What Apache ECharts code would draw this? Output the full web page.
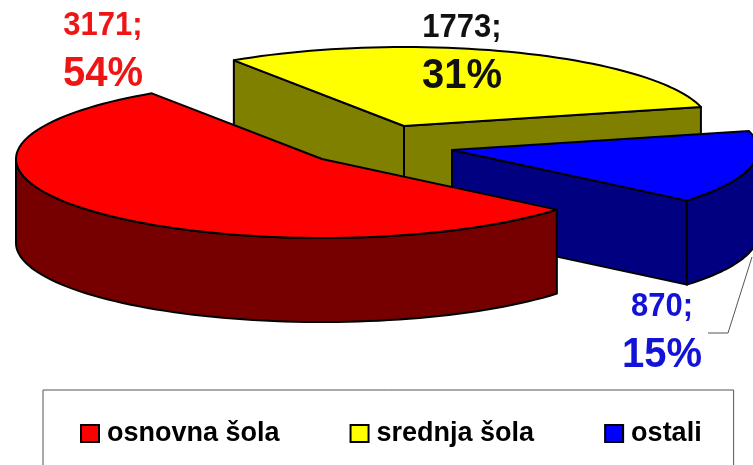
<!DOCTYPE html>
<html>
<head>
<meta charset="utf-8">
<script src="https://cdn.jsdelivr.net/npm/echarts@6/dist/echarts.min.js"></script>
<style>
html, body { margin: 0; padding: 0; background: #fff; }
#main { width: 753px; height: 465px; }
</style>
</head>
<body>
<div id="main"></div>
<script>
// values
var categories = ['osnovna šola', 'srednja šola', 'ostali'];
var values = [3171, 1773, 870];
var percents = [54, 31, 15];

var topColors = ['#ff0000', '#ffff00', '#0000ff'];
var sideColors = ['#760000', '#808000', '#000080'];
var textColors = ['#f01515', '#111111', '#1212d8'];

// fake 3d: ellipse size, height of the disc, where each slice apex sits
var RX = 306, RY = 79, DEPTH = 84;
var START = 14;
var apex = [[322, 159], [404, 126], [452, 150]];
var labelPos = [[103, 26, 74], [462, 28, 76], [662, 307, 355]];

var total = values[0] + values[1] + values[2];

// slices go on round counter clockwise: yellow, red, blue
function sliceAngles(index) {
    var order = [1, 0, 2];
    var a = START;
    for (var i = 0; i < order.length; i++) {
        var span = values[order[i]] / total * 360;
        if (order[i] === index) {
            return [a, a + span];
        }
        a += span;
    }
}

function rimPoint(c, deg, drop) {
    var t = deg * Math.PI / 180;
    return [c[0] + RX * Math.cos(t), c[1] - RY * Math.sin(t) + drop];
}

function arcPoints(c, from, to, drop) {
    var pts = [];
    var n = Math.max(2, Math.ceil(Math.abs(to - from) / 2));
    for (var i = 0; i <= n; i++) {
        pts.push(rimPoint(c, from + (to - from) * i / n, drop));
    }
    return pts;
}

function poly(points, fill) {
    return {
        type: 'polygon',
        shape: { points: points },
        style: { fill: fill, stroke: '#000', lineWidth: 2, lineJoin: 'round' }
    };
}

function label(text, x, y, size, color) {
    return {
        type: 'text',
        x: x,
        y: y,
        scaleY: 1.08,
        style: {
            text: text,
            fill: color,
            font: 'bold ' + size + 'px "Liberation Sans", Arial, sans-serif',
            align: 'center',
            verticalAlign: 'middle'
        }
    };
}

// a cut face only shows when it is turned down towards the viewer
function facesViewer(deg) {
    return Math.sin(deg * Math.PI / 180) < 0;
}

function cutFace(c, deg, side) {
    var p = rimPoint(c, deg, 0);
    return poly([c, p, [p[0], p[1] + DEPTH], [c[0], c[1] + DEPTH]], side);
}

function renderSlice(index) {
    return function (params, api) {
        var c = apex[index];
        var ang = sliceAngles(index);
        var side = sideColors[index];
        var kids = [];

        if (facesViewer(ang[0] - 90)) {
            kids.push(cutFace(c, ang[0], side));
        }
        if (facesViewer(ang[1] + 90)) {
            kids.push(cutFace(c, ang[1], side));
        }

        // outer wall, only the part turned to the viewer
        var from = Math.max(ang[0], 180);
        var to = Math.min(ang[1], 360);
        if (to > from) {
            var upper = arcPoints(c, from, to, 0);
            var lower = arcPoints(c, to, from, DEPTH);
            kids.push(poly(upper.concat(lower), side));
        }

        // top face
        kids.push(poly([c].concat(arcPoints(c, ang[0], ang[1], 0)), topColors[index]));

        var lp = labelPos[index];
        kids.push(label(api.value(0) + ';', lp[0], lp[1], 31, textColors[index]));
        kids.push(label(percents[index] + '%', lp[0], lp[2], 40, textColors[index]));

        // leader line for the small slice
        if (index === 2) {
            kids.push({
                type: 'polyline',
                shape: { points: [[708, 333], [728, 333], [752, 257]] },
                style: { stroke: '#555', lineWidth: 1, fill: null }
            });
        }
        return { type: 'group', children: kids };
    };
}

function makeSeries(index) {
    return {
        name: categories[index],
        type: 'custom',
        coordinateSystem: 'none',
        silent: true,
        animation: false,
        clip: false,
        itemStyle: { color: topColors[index], borderColor: '#000', borderWidth: 2 },
        data: [[values[index]]],
        renderItem: renderSlice(index)
    };
}

var myChart = echarts.init(document.getElementById('main'), null, { renderer: 'canvas' });

var option = {
    backgroundColor: '#fff',
    animation: false,
    legend: {
        data: categories,
        orient: 'horizontal',
        left: 43,
        top: 390,
        padding: [30, 32, 36, 37],
        itemGap: 70,
        itemWidth: 18,
        itemHeight: 17,
        icon: 'rect',
        selectedMode: false,
        borderColor: '#555',
        borderWidth: 1,
        backgroundColor: '#fff',
        textStyle: {
            color: '#000',
            fontFamily: '"Liberation Sans", Arial, sans-serif',
            fontWeight: 'bold',
            fontSize: 27,
            padding: [0, 0, 0, 3]
        }
    },
    // drawn back to front
    series: [makeSeries(1), makeSeries(2), makeSeries(0)]
};

myChart.setOption(option);
</script>
</body>
</html>
